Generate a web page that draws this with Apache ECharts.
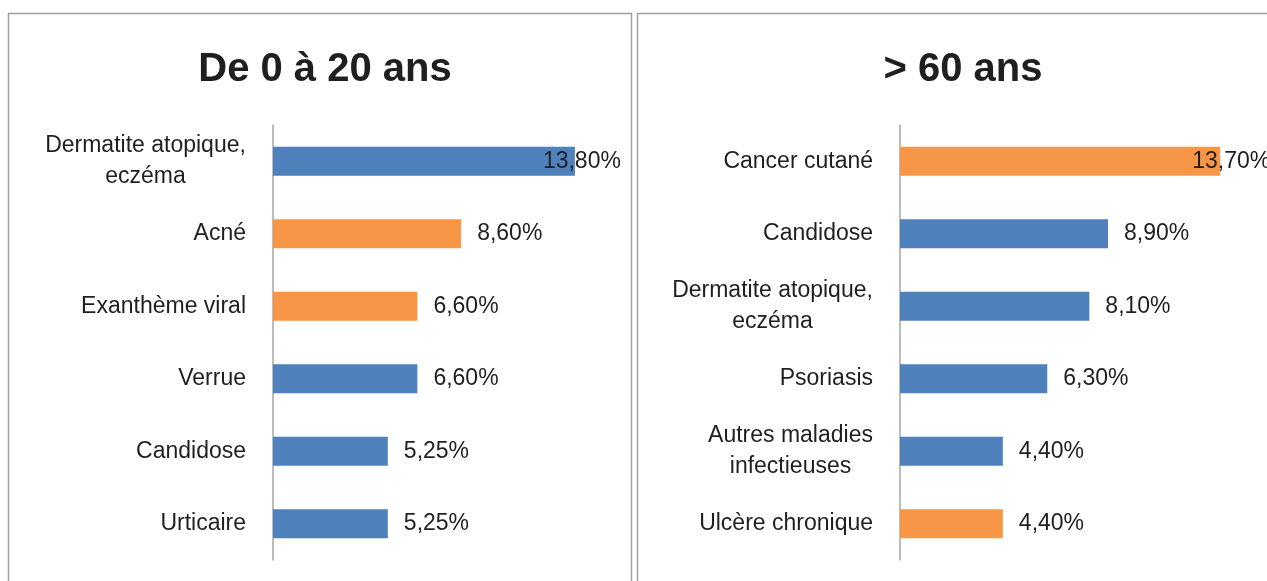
<!DOCTYPE html>
<html>
<head>
<meta charset="utf-8">
<script src="https://cdn.jsdelivr.net/npm/echarts@6/dist/echarts.min.js"></script>
<style>
  html, body { margin: 0; padding: 0; background: #fff; }
  #chart { width: 1267px; height: 581px; }
</style>
</head>
<body>
<div id="chart"></div>
<script>
// data
const youngCategories = ['Dermatite atopique,\neczéma', 'Acné', 'Exanthème viral', 'Verrue', 'Candidose', 'Urticaire'];
const youngValues = [13.8, 8.6, 6.6, 6.6, 5.25, 5.25];
const youngHighlight = [false, true, true, false, false, false];

const oldCategories = ['Cancer cutané', 'Candidose', 'Dermatite atopique,\neczéma', 'Psoriasis', 'Autres maladies\ninfectieuses', 'Ulcère chronique'];
const oldValues = [13.7, 8.9, 8.1, 6.3, 4.4, 4.4];
const oldHighlight = [true, false, false, false, false, true];

const titles = ['De 0 à 20 ans', '> 60 ans'];

const BLUE = '#4F81BD';
const ORANGE = '#F79646';
const TEXT = '#1f1f1f';
const FONT = '"Liberation Sans", Arial, sans-serif';
const LABEL_SIZE = 23;

const chart = echarts.init(document.getElementById('chart'));

// measure text so multi-line labels can be centred inside a right-aligned block
const ctx = document.createElement('canvas').getContext('2d');
ctx.font = LABEL_SIZE + 'px ' + FONT;
function blockWidth(v) {
  return Math.ceil(Math.max(...v.split('\n').map(l => ctx.measureText(l).width)));
}
function catFormatter(v) {
  const lines = v.split('\n');
  if (lines.length === 1) return v;
  const w = blockWidth(v);
  return lines.map(l => '{c' + w + '|' + l + '}').join('\n');
}
function richFor(cats) {
  const rich = {};
  cats.forEach(v => {
    if (v.indexOf('\n') >= 0) {
      const w = blockWidth(v);
      rich['c' + w] = { width: w, align: 'center', fontSize: LABEL_SIZE, fontFamily: FONT, color: TEXT, lineHeight: 31 };
    }
  });
  return rich;
}

function fmt(v) {
  return v.toFixed(2).replace('.', ',') + '%';
}

function barData(values, highlight, maxShift) {
  const maxV = Math.max(...values);
  return values.map((v, i) => {
    const item = { value: v, itemStyle: { color: highlight[i] ? ORANGE : BLUE } };
    if (v === maxV) item.label = { offset: [maxShift, 0] };
    return item;
  });
}

// right panel runs off the page edge, so its axis max is trimmed to what is visible
const grids = [
  { left: 273, width: 350, top: 125, height: 435 },
  { left: 900, width: 367, top: 125, height: 435 }
];
const axisMax = [16, 15.7];

function yAxis(idx, cats) {
  return {
    type: 'category', gridIndex: idx, data: cats, inverse: true,
    axisLine: { show: true, lineStyle: { color: '#a6a6a6', width: 1.5 } },
    axisTick: { show: false },
    axisLabel: {
      color: TEXT, fontSize: LABEL_SIZE, fontFamily: FONT, margin: 27,
      lineHeight: 31, formatter: catFormatter, rich: richFor(cats)
    }
  };
}
function xAxis(idx) {
  return {
    type: 'value', gridIndex: idx, min: 0, max: axisMax[idx],
    show: false, splitLine: { show: false }
  };
}
function series(idx, values, highlight, shift) {
  return {
    type: 'bar', xAxisIndex: idx, yAxisIndex: idx,
    data: barData(values, highlight, shift), barWidth: 29,
    label: {
      show: true, position: 'right', distance: 16,
      color: TEXT, fontSize: LABEL_SIZE, fontFamily: FONT,
      formatter: p => fmt(p.value)
    },
    silent: true, animation: false
  };
}

const option = {
  backgroundColor: '#fff',
  animation: false,
  title: [
    { text: titles[0], left: 320, top: 65, textAlign: 'center', textVerticalAlign: 'middle',
      textStyle: { fontSize: 40, fontWeight: 'bold', fontFamily: FONT, color: TEXT } },
    { text: titles[1], left: 958, top: 65, textAlign: 'center', textVerticalAlign: 'middle',
      textStyle: { fontSize: 40, fontWeight: 'bold', fontFamily: FONT, color: TEXT } }
  ],
  graphic: [
    { type: 'rect', shape: { x: 8.5, y: 13.5, width: 623, height: 620 },
      style: { fill: 'none', stroke: '#a0a0a0', lineWidth: 1.5 }, silent: true },
    { type: 'rect', shape: { x: 637.5, y: 13.5, width: 700, height: 620 },
      style: { fill: 'none', stroke: '#a0a0a0', lineWidth: 1.5 }, silent: true }
  ],
  grid: grids,
  xAxis: [xAxis(0), xAxis(1)],
  yAxis: [yAxis(0, youngCategories), yAxis(1, oldCategories)],
  series: [
    series(0, youngValues, youngHighlight, -48),
    series(1, oldValues, oldHighlight, -44)
  ]
};

chart.setOption(option);
</script>
</body>
</html>
